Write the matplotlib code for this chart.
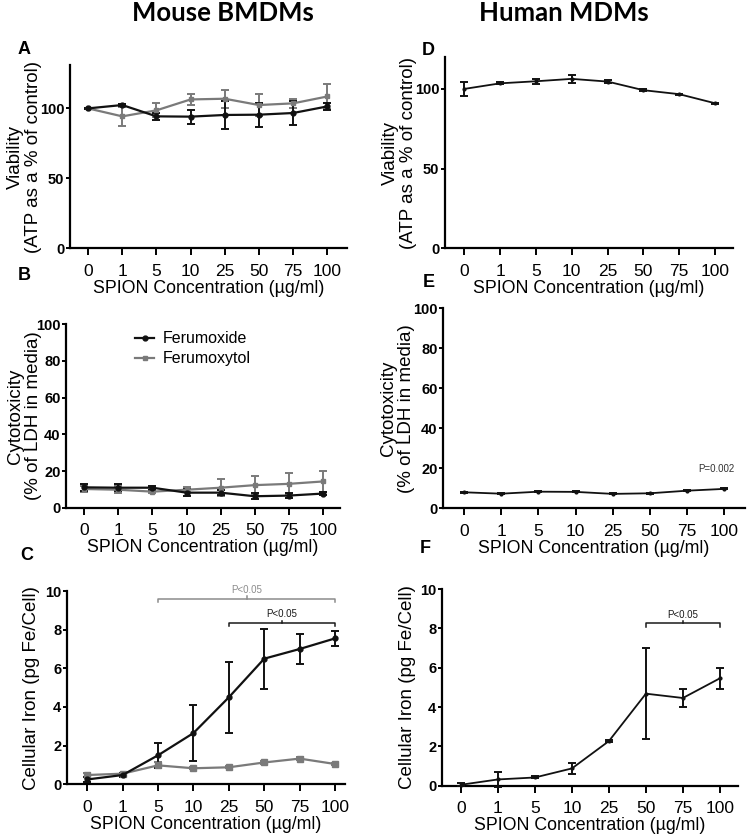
import matplotlib
matplotlib.use("Agg")
import matplotlib.pyplot as plt
import numpy as np

plt.rcParams["font.family"] = ["Liberation Sans", "DejaVu Sans"]

# ---------------------------------------------------------------------------
# Data
# ---------------------------------------------------------------------------
conc_labels = ["0", "1", "5", "10", "25", "50", "75", "100"]

# A: mouse viability
a_ferumoxide = [100, 102.4, 94.3, 94.1, 95.3, 95.5, 96.7, 101.4]
a_ferumoxide_err = [0.5, 0.8, 2.6, 5.0, 10.0, 8.5, 8.5, 2.8]
a_ferumoxytol = [100, 94.3, 98.6, 106.4, 106.9, 102.4, 103.6, 108.5]
a_ferumoxytol_err = [0.5, 7.0, 5.0, 4.0, 6.6, 8.0, 3.0, 9.2]

# B: mouse cytotoxicity
b_ferumoxide = [11.1, 10.9, 10.9, 8.2, 8.2, 6.25, 6.6, 7.7]
b_ferumoxide_err = [2.0, 2.0, 1.0, 2.0, 1.5, 1.5, 1.5, 1.0]
b_ferumoxytol = [10.2, 9.8, 8.75, 9.8, 10.9, 12.3, 13.0, 14.3]
b_ferumoxytol_err = [1.5, 2.0, 1.0, 1.5, 4.5, 5.2, 5.8, 5.9]

# C: mouse cellular iron
c_ferumoxide = [0.25, 0.48, 1.5, 2.65, 4.5, 6.5, 7.0, 7.55]
c_ferumoxide_err = [0.12, 0.08, 0.65, 1.43, 1.85, 1.55, 0.8, 0.38]
c_ferumoxytol = [0.48, 0.55, 0.98, 0.83, 0.88, 1.13, 1.33, 1.05]
c_ferumoxytol_err = [0.08, 0.06, 0.15, 0.06, 0.06, 0.06, 0.06, 0.06]

# D: human viability
d_values = [100, 103.5, 104.8, 106.3, 104.6, 99.2, 96.7, 91.0]
d_err = [4.6, 0.6, 1.5, 2.7, 1.2, 0.6, 0.4, 0.4]

# E: human cytotoxicity
e_values = [8.0, 7.3, 8.3, 8.2, 7.2, 7.5, 8.8, 9.7]
e_err = [0.3, 0.3, 0.3, 0.3, 0.3, 0.3, 0.3, 0.3]

# F: human cellular iron
f_values = [0.05, 0.32, 0.42, 0.88, 2.27, 4.68, 4.46, 5.46]
f_err = [0.08, 0.4, 0.05, 0.3, 0.05, 2.3, 0.46, 0.54]

# significance brackets: (first index, last index, height, label, colour)
c_brackets = [(2, 7, 9.6, "P<0.05", "#8c8c8c"), (4, 7, 8.35, "P<0.05", "#1a1a1a")]
f_brackets = [(5, 7, 8.25, "P<0.05", "#1a1a1a")]

GREY = "#7a7a7a"
BLACK = "#111111"
XLABEL = "SPION Concentration (\u00b5g/ml)"
x = np.arange(len(conc_labels))


def style_axes(ax, xlim, ylim, yticks, ylabel, label_x):
    for side in ("top", "right"):
        ax.spines[side].set_visible(False)
    for side in ("left", "bottom"):
        ax.spines[side].set_linewidth(1.6)
    ax.set_xlim(*xlim)
    ax.set_ylim(*ylim)
    ax.set_xticks(x)
    ax.set_xticklabels(conc_labels, fontsize=12.5)
    ax.set_yticks(yticks)
    ax.set_yticklabels([str(t) for t in yticks], fontsize=10.5, fontweight="bold")
    ax.tick_params(axis="x", length=5, width=1.4, pad=6)
    ax.tick_params(axis="y", length=3, width=1.4, pad=1)
    ax.set_xlabel(XLABEL, fontsize=12.8, labelpad=1)
    ax.set_ylabel(ylabel, fontsize=13.5, linespacing=1.05)
    ax.yaxis.set_label_coords(label_x, 0.5)


def draw_series(ax, vals, err, color, marker, ms, lw=1.6):
    ax.errorbar(x, vals, yerr=err, color=color, marker=marker, ms=ms, lw=lw,
                elinewidth=1.4, capsize=3, capthick=1.4, clip_on=False, zorder=3)


def draw_brackets(ax, brackets):
    for i0, i1, h, label, color in brackets:
        d = 0.18
        ax.plot([i0, i0, i1, i1], [h - d, h, h, h - d], color=color, lw=1.1,
                clip_on=False)
        mid = (i0 + i1) / 2
        ax.plot([mid, mid], [h, h + 0.12], color=color, lw=1.1, clip_on=False)
        ax.text(mid, h + 0.2, label, ha="center", va="bottom", fontsize=7,
                color=color)


fig = plt.figure(figsize=(7.5, 8.4), dpi=100)

# ---------------------------------------------------------------------------
# Mouse BMDMs
# ---------------------------------------------------------------------------
ax_a = fig.add_axes([0.0933, 0.7044, 0.369, 0.2182])
draw_series(ax_a, a_ferumoxytol, a_ferumoxytol_err, GREY, "s", 3.5)
draw_series(ax_a, a_ferumoxide, a_ferumoxide_err, BLACK, "o", 3.5)
style_axes(ax_a, (-0.53, 7.57), (0, 131), [0, 50, 100],
           "Viability\n(ATP as a % of control)", -0.101)

ax_b = fig.add_axes([0.088, 0.3956, 0.365, 0.2183])
draw_series(ax_b, b_ferumoxytol, b_ferumoxytol_err, GREY, "s", 3.5)
draw_series(ax_b, b_ferumoxide, b_ferumoxide_err, BLACK, "o", 3.5)
style_axes(ax_b, (-0.54, 7.5), (0, 100), [0, 20, 40, 60, 80, 100],
           "Cytotoxicity\n(% of LDH in media)", -0.088)
h_fx = ax_b.plot([], [], color=BLACK, marker="o", ms=3.5, lw=1.6)[0]
h_fy = ax_b.plot([], [], color=GREY, marker="s", ms=3.5, lw=1.6)[0]
ax_b.legend([h_fx, h_fy], ["Ferumoxide", "Ferumoxytol"], loc="upper left",
            bbox_to_anchor=(0.2, 1.04), frameon=False, fontsize=11.5,
            handlelength=1.2, handletextpad=0.5, labelspacing=0.3)

ax_c = fig.add_axes([0.0893, 0.0663, 0.3707, 0.2301])
draw_series(ax_c, c_ferumoxytol, c_ferumoxytol_err, GREY, "s", 4)
draw_series(ax_c, c_ferumoxide, c_ferumoxide_err, BLACK, "o", 3.5)
style_axes(ax_c, (-0.57, 7.28), (0, 10), [0, 2, 4, 6, 8, 10],
           "Cellular Iron (pg Fe/Cell)", -0.097)
draw_brackets(ax_c, c_brackets)

# ---------------------------------------------------------------------------
# Human MDMs
# ---------------------------------------------------------------------------
ax_d = fig.add_axes([0.5933, 0.7044, 0.384, 0.2277])
draw_series(ax_d, d_values, d_err, BLACK, "o", 2, lw=1.3)
style_axes(ax_d, (-0.54, 7.5), (0, 120), [0, 50, 100],
           "Viability\n(ATP as a % of control)", -0.097)

ax_e = fig.add_axes([0.591, 0.3949, 0.402, 0.2381])
draw_series(ax_e, e_values, e_err, BLACK, "o", 2, lw=1.3)
style_axes(ax_e, (-0.56, 7.55), (0, 100), [0, 20, 40, 60, 80, 100],
           "Cytotoxicity\n(% of LDH in media)", -0.094)
ax_e.text(6.8, 17, "P=0.002", ha="center", va="bottom", fontsize=7,
          color="#333333")

ax_f = fig.add_axes([0.589, 0.0646, 0.395, 0.2342])
draw_series(ax_f, f_values, f_err, BLACK, "o", 2, lw=1.3)
style_axes(ax_f, (-0.52, 7.49), (0, 10), [0, 2, 4, 6, 8, 10],
           "Cellular Iron (pg Fe/Cell)", -0.088)
draw_brackets(ax_f, f_brackets)

# headers and panel letters
fig.text(0.297, 0.999, "Mouse BMDMs", ha="center", va="top", fontsize=18.5,
         fontweight="bold", family=["Lato", "DejaVu Sans"])
fig.text(0.752, 0.999, "Human MDMs", ha="center", va="top", fontsize=18.5,
         fontweight="bold", family=["Lato", "DejaVu Sans"])
panel_letters = [("A", 0.024, 0.951), ("B", 0.024, 0.682), ("C", 0.027, 0.349),
                 ("D", 0.563, 0.950), ("E", 0.564, 0.674), ("F", 0.560, 0.357)]
for letter, lx, ly in panel_letters:
    fig.text(lx, ly, letter, ha="left", va="top", fontsize=13,
             fontweight="bold")

fig.savefig("out.png", dpi=100)
